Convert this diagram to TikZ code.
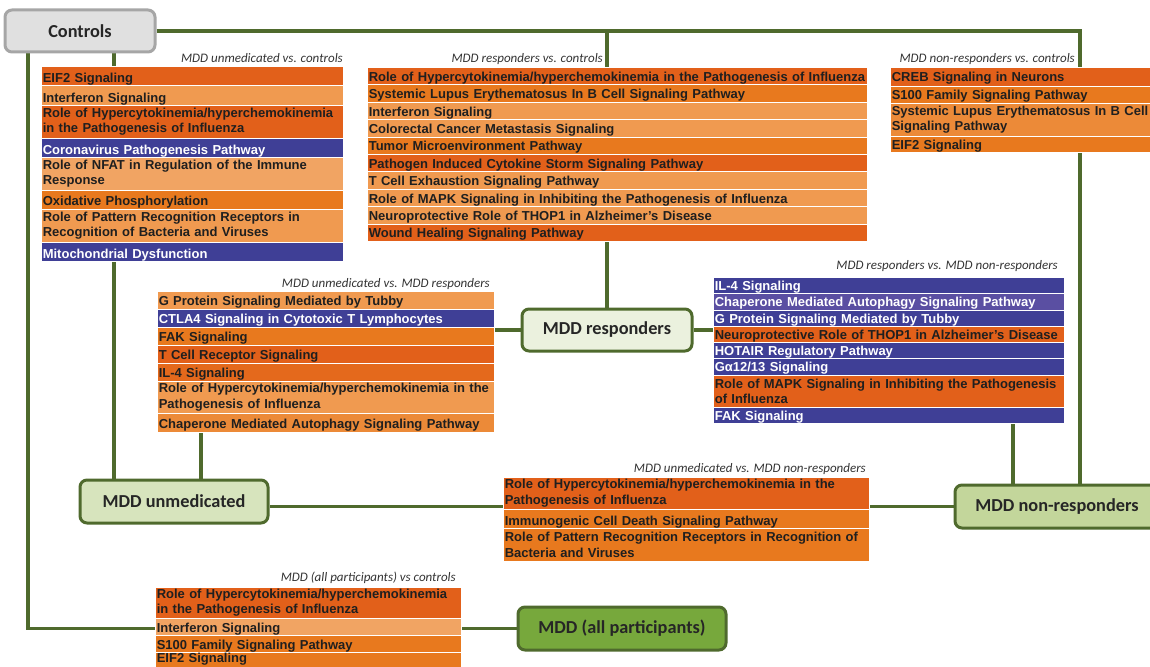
\documentclass[tikz,border=0pt]{standalone}
\usepackage{fontspec}
\setmainfont{Liberation Sans}
\newfontfamily\calfont{Carlito}
\usetikzlibrary{calc}
\pgfdeclarelayer{background}
\pgfsetlayers{background,main}
\definecolor{dkor}{HTML}{E2601A}
\definecolor{dkor2}{HTML}{E4691C}
\definecolor{medor}{HTML}{E8791E}
\definecolor{or3}{HTML}{EC8A38}
\definecolor{ltor}{HTML}{F09A50}
\definecolor{ltor2}{HTML}{F1A463}
\definecolor{pblue}{HTML}{3F3F96}
\definecolor{pblue2}{HTML}{5A4FA2}
\definecolor{lgreen}{HTML}{4F6A2D}
\definecolor{gA}{HTML}{D7E4BD}
\definecolor{gB}{HTML}{C3D69B}
\definecolor{gC}{HTML}{EBF1DE}
\definecolor{gD}{HTML}{77A83C}
\definecolor{grayf}{HTML}{E0E0E0}
\definecolor{grayd}{HTML}{A6A6A6}
\begin{document}
\begin{tikzpicture}[x=1pt,y=-1pt,
  prow/.style={anchor=north west, inner xsep=1.5pt, inner ysep=0pt, align=left,
    draw=white, line width=0.6pt, text=black!88,
    font=\fontsize{13}{15.5}\selectfont\bfseries},
  brow/.style={prow, text=white},
  sl/.style 2 args={text height=#1, text depth=#2},
  hdr/.style={anchor=east, inner sep=0pt, text=black!80,
    font=\calfont\itshape\fontsize{13}{15}\selectfont},
  grp/.style={rounded corners=7pt, draw=lgreen, line width=3pt, text=black!85,
    font=\calfont\bfseries\fontsize{18.3}{20}\selectfont},
  cn/.style={draw=lgreen, line width=3.5pt},
  boxA/.style={text width=299pt},
  boxB/.style={text width=497pt},
  boxC/.style={text width=267pt},
  boxD/.style={text width=334pt},
  boxE/.style={text width=348pt},
  boxF/.style={text width=363pt},
  boxG/.style={text width=303pt}]
\useasboundingbox (0,0) rectangle (1150,666);

% group nodes
\node[grp, draw=grayd, fill=grayf, minimum width=150pt, minimum height=42pt] (controls) at (80,31) {Controls};
\node[grp, fill=gC, minimum width=170pt, minimum height=42pt] (resp) at (607,330) {MDD responders};
\node[grp, fill=gA, minimum width=188pt, minimum height=43pt] (unmed) at (174,501.5) {MDD unmedicated};
\node[grp, fill=gB, minimum width=204pt, minimum height=43pt] (nonresp) at (1057,506.5) {MDD non-responders};
\node[grp, fill=gD, minimum width=208pt, minimum height=43pt] (allp) at (622,628.5) {MDD (all participants)};

% MDD unmedicated vs. controls
\node[hdr] (ha) at (343,58) {MDD unmedicated vs. controls};
\node[prow, boxA, fill=dkor, minimum height=19pt, sl={16.5pt}{2.5pt}] (a1) at (41,66) {EIF2 Signaling};
\node[prow, boxA, fill=ltor, minimum height=20pt, sl={17pt}{3pt}] (a2) at (41,85) {Interferon Signaling};
\node[prow, boxA, fill=dkor, minimum height=33pt] (a3) at (41,105) {Role of Hypercytokinemia/hyperchemokinemia\\in the Pathogenesis of Influenza};
\node[brow, boxA, fill=pblue, minimum height=19pt, sl={16pt}{3pt}] (a4) at (41,138) {Coronavirus Pathogenesis Pathway};
\node[prow, boxA, fill=ltor2, minimum height=33pt] (a5) at (41,157) {Role of NFAT in Regulation of the Immune\\Response};
\node[prow, boxA, fill=medor, minimum height=19pt, sl={15.5pt}{3.5pt}] (a6) at (41,190) {Oxidative Phosphorylation};
\node[prow, boxA, fill=ltor, minimum height=33pt] (a7) at (41,209) {Role of Pattern Recognition Receptors in\\Recognition of Bacteria and Viruses};
\node[brow, boxA, fill=pblue, minimum height=19pt, sl={15.7pt}{3.3pt}] (a8) at (41,242) {Mitochondrial Dysfunction};

% MDD responders vs. controls
\node[hdr] (hb) at (603,59) {MDD responders vs. controls};
\node[prow, boxB, fill=dkor, minimum height=17.4pt, sl={14pt}{3.4pt}] (b1) at (367,67) {\mbox{Role of Hypercytokinemia/hyperchemokinemia in the Pathogenesis of Influenza}};
\node[prow, boxB, fill=medor, minimum height=17.4pt, sl={14pt}{3.4pt}] (b2) at (367,84.4) {Systemic Lupus Erythematosus In B Cell Signaling Pathway};
\node[prow, boxB, fill=ltor, minimum height=17.4pt, sl={14pt}{3.4pt}] (b3) at (367,101.8) {Interferon Signaling};
\node[prow, boxB, fill=ltor, minimum height=17.4pt, sl={14pt}{3.4pt}] (b4) at (367,119.2) {Colorectal Cancer Metastasis Signaling};
\node[prow, boxB, fill=medor, minimum height=17.4pt, sl={14pt}{3.4pt}] (b5) at (367,136.6) {Tumor Microenvironment Pathway};
\node[prow, boxB, fill=dkor, minimum height=17.4pt, sl={14pt}{3.4pt}] (b6) at (367,154) {Pathogen Induced Cytokine Storm Signaling Pathway};
\node[prow, boxB, fill=ltor, minimum height=17.4pt, sl={14pt}{3.4pt}] (b7) at (367,171.4) {T Cell Exhaustion Signaling Pathway};
\node[prow, boxB, fill=ltor, minimum height=17.4pt, sl={14pt}{3.4pt}] (b8) at (367,188.8) {Role of MAPK Signaling in Inhibiting the Pathogenesis of Influenza};
\node[prow, boxB, fill=ltor, minimum height=17.4pt, sl={14pt}{3.4pt}] (b9) at (367,206.2) {Neuroprotective Role of THOP1 in Alzheimer's Disease};
\node[prow, boxB, fill=dkor, minimum height=17.4pt, sl={14pt}{3.4pt}] (b10) at (367,223.6) {Wound Healing Signaling Pathway};

% MDD non-responders vs. controls
\node[hdr] (hc) at (1075,59) {MDD non-responders vs. controls};
\node[prow, boxC, fill=dkor, minimum height=19pt, sl={14.7pt}{4.3pt}] (c1) at (890,67) {CREB Signaling in Neurons};
\node[prow, boxC, fill=medor, minimum height=17pt, sl={13.3pt}{3.7pt}] (c2) at (890,86) {S100 Family Signaling Pathway};
\node[prow, boxC, fill=or3, minimum height=33pt] (c3) at (890,103) {Systemic Lupus Erythematosus In B Cell\\Signaling Pathway};
\node[prow, boxC, fill=medor, minimum height=16pt, sl={13.3pt}{2.7pt}] (c4) at (890,136) {EIF2 Signaling};

% MDD unmedicated vs. MDD responders
\node[hdr] (hd) at (490,284) {MDD unmedicated vs. MDD responders};
\node[prow, boxD, fill=ltor, minimum height=18pt, sl={14.5pt}{3.5pt}] (d1) at (157,291) {G Protein Signaling Mediated by Tubby};
\node[brow, boxD, fill=pblue, minimum height=18pt, sl={14.5pt}{3.5pt}] (d2) at (157,309) {CTLA4 Signaling in Cytotoxic T Lymphocytes};
\node[prow, boxD, fill=medor, minimum height=18pt, sl={14.5pt}{3.5pt}] (d3) at (157,327) {FAK Signaling};
\node[prow, boxD, fill=dkor, minimum height=18pt, sl={14.5pt}{3.5pt}] (d4) at (157,345) {T Cell Receptor Signaling};
\node[prow, boxD, fill=dkor2, minimum height=18pt, sl={14.5pt}{3.5pt}] (d5) at (157,363) {IL-4 Signaling};
\node[prow, boxD, fill=ltor, minimum height=32pt] (d6) at (157,381) {Role of Hypercytokinemia/hyperchemokinemia in the\\Pathogenesis of Influenza};
\node[prow, boxD, fill=or3, minimum height=19pt, sl={15pt}{4pt}] (d7) at (157,413) {Chaperone Mediated Autophagy Signaling Pathway};

% MDD responders vs. MDD non-responders
\node[hdr] (he) at (1058,266) {MDD responders vs. MDD non-responders};
\node[brow, boxE, fill=pblue, minimum height=16pt, sl={13pt}{3pt}] (e1) at (713,277) {IL-4 Signaling};
\node[brow, boxE, fill=pblue2, minimum height=17pt, sl={13.5pt}{3.5pt}] (e2) at (713,293) {Chaperone Mediated Autophagy Signaling Pathway};
\node[brow, boxE, fill=pblue, minimum height=16pt, sl={13pt}{3pt}] (e3) at (713,310) {G Protein Signaling Mediated by Tubby};
\node[prow, boxE, fill=dkor, minimum height=16pt, sl={13pt}{3pt}] (e4) at (713,326) {Neuroprotective Role of THOP1 in Alzheimer's Disease};
\node[brow, boxE, fill=pblue, minimum height=16pt, sl={13pt}{3pt}] (e5) at (713,342) {HOTAIR Regulatory Pathway};
\node[brow, boxE, fill=pblue, minimum height=17pt, sl={13.5pt}{3.5pt}] (e6) at (713,358) {Gα12/13 Signaling};
\node[prow, boxE, fill=dkor, minimum height=32pt] (e7) at (713,375) {Role of MAPK Signaling in Inhibiting the Pathogenesis\\of Influenza};
\node[brow, boxE, fill=pblue, minimum height=16pt, sl={13pt}{3pt}] (e8) at (713,407) {FAK Signaling};

% MDD unmedicated vs. MDD non-responders
\node[hdr] (hf) at (866,469) {MDD unmedicated vs. MDD non-responders};
\node[prow, boxF, fill=dkor, minimum height=32pt] (f1) at (503,477) {Role of Hypercytokinemia/hyperchemokinemia in the\\Pathogenesis of Influenza};
\node[prow, boxF, fill=medor, minimum height=19pt, sl={16.5pt}{2.5pt}] (f2) at (503,509) {Immunogenic Cell Death Signaling Pathway};
\node[prow, boxF, fill=medor, minimum height=33pt] (f3) at (503,528) {Role of Pattern Recognition Receptors in Recognition of\\Bacteria and Viruses};

% MDD (all participants) vs controls
\node[hdr] (hg) at (456,578) {MDD (all participants) vs controls};
\node[prow, boxG, fill=dkor, minimum height=31pt] (g1) at (155,587) {Role of Hypercytokinemia/hyperchemokinemia\\in the Pathogenesis of Influenza};
\node[prow, boxG, fill=ltor2, minimum height=17pt, sl={14pt}{3pt}] (g2) at (155,618) {Interferon Signaling};
\node[prow, boxG, fill=medor, minimum height=17pt, sl={14pt}{3pt}] (g3) at (155,635) {S100 Family Signaling Pathway};
\node[prow, boxG, fill=medor, minimum height=17pt, sl={10.5pt}{6.5pt}] (g4) at (155,652) {EIF2 Signaling};

% connectors
\coordinate (cS1) at ([xshift=-52pt]controls.south);
\coordinate (cS2) at ([xshift=34pt]controls.south);
\coordinate (uN1) at ([xshift=-60pt]unmed.north);
\coordinate (uN2) at ([xshift=27pt]unmed.north);
\coordinate (nN1) at ([xshift=-44pt]nonresp.north);
\coordinate (nN2) at ([xshift=23pt]nonresp.north);
\begin{pgfonlayer}{background}
\draw[cn] (controls.east) -| (nN2);
\draw[cn] (resp.north |- controls.east) -- (resp.north);
\draw[cn] (cS1) |- (allp.west);
\draw[cn] (cS2) -- (uN1);
\draw[cn] (uN2) -- (uN2 |- d7.south);
\draw[cn] (resp.west) -- (resp.west -| d1.east);
\draw[cn] (resp.east) -- (resp.east -| e1.west);
\draw[cn] (nN1) -- (nN1 |- e8.south);
\draw[cn] (nonresp.west) -- (nonresp.west -| unmed.east);
\end{pgfonlayer}
\end{tikzpicture}
\end{document}
